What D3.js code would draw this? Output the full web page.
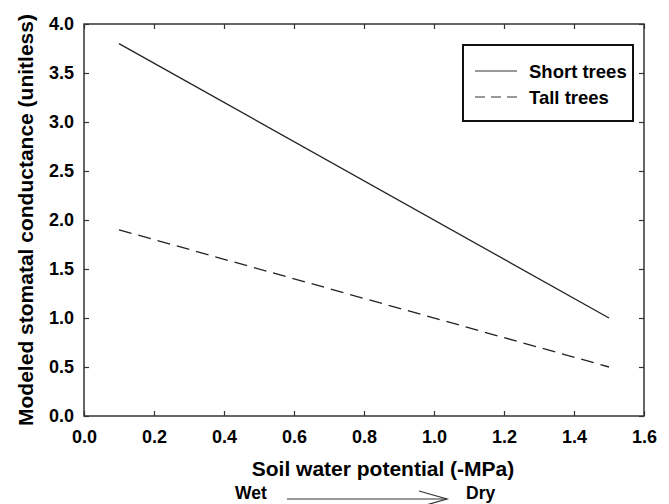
<!DOCTYPE html>
<html><head><meta charset="utf-8">
<script src="https://cdn.jsdelivr.net/npm/d3@7"></script>
<style>body{margin:0;background:#fff}svg{display:block}text{font-family:"Liberation Sans",Arial,sans-serif;font-weight:bold;fill:#000}</style>
</head><body>
<script>
const potential = [0.1, 1.5];
const shortTrees = [3.8, 1.0];
const tallTrees = [1.9, 0.5];
const xTicks = [0, 0.2, 0.4, 0.6, 0.8, 1.0, 1.2, 1.4, 1.6];
const yTicks = [0, 0.5, 1.0, 1.5, 2.0, 2.5, 3.0, 3.5, 4.0];
const seriesNames = ["Short trees", "Tall trees"];

const W = 669, H = 504;
const m = {l: 84, r: 25, t: 24, b: 88};
const svg = d3.select("body").append("svg").attr("width", W).attr("height", H);
const x = d3.scaleLinear().domain([0, 1.6]).range([m.l, W - m.r]);
const y = d3.scaleLinear().domain([0, 4]).range([H - m.b, m.t]);
const fmt = d3.format(".1f");
const FONT = '"Liberation Sans",Arial,sans-serif';

const gx = svg.append("g").attr("transform", `translate(0,${H - m.b})`)
  .call(d3.axisBottom(x).tickValues(xTicks).tickFormat(fmt).tickSizeInner(-5).tickSizeOuter(0).tickPadding(14));
const gxt = svg.append("g").attr("transform", `translate(0,${m.t})`)
  .call(d3.axisTop(x).tickValues(xTicks).tickFormat("").tickSizeInner(-5).tickSizeOuter(0));
const gy = svg.append("g").attr("transform", `translate(${m.l},0)`)
  .call(d3.axisLeft(y).tickValues(yTicks).tickFormat(fmt).tickSizeInner(-5).tickSizeOuter(0).tickPadding(10));
const gyr = svg.append("g").attr("transform", `translate(${W - m.r},0)`)
  .call(d3.axisRight(y).tickValues(yTicks).tickFormat("").tickSizeInner(-5).tickSizeOuter(0));
[gx, gxt, gy, gyr].forEach(g => {
  g.select(".domain").remove();
  g.selectAll("line").attr("stroke", "#333").attr("stroke-width", 1.2);
  g.selectAll("text").style("font-size", "18px").attr("fill", "#000").style("font-family", FONT).style("font-weight", "bold");
});
svg.append("rect").attr("x", x(0)).attr("y", y(4)).attr("width", x(1.6) - x(0)).attr("height", y(0) - y(4))
  .attr("fill", "none").attr("stroke", "#333").attr("stroke-width", 1.5);

const line = d3.line().x(d => x(d[0])).y(d => y(d[1]));
svg.append("path").datum(potential.map((p, i) => [p, shortTrees[i]])).attr("d", line)
  .attr("fill", "none").attr("stroke", "#222").attr("stroke-width", 1.3);
svg.append("path").datum(potential.map((p, i) => [p, tallTrees[i]])).attr("d", line)
  .attr("fill", "none").attr("stroke", "#222").attr("stroke-width", 1.3).attr("stroke-dasharray", "13,7");

// legend
const lg = svg.append("g");
lg.append("rect").attr("x", 463).attr("y", 45).attr("width", 170).attr("height", 76)
  .attr("fill", "#fff").attr("stroke", "#111").attr("stroke-width", 2);
seriesNames.forEach((n, i) => {
  const yy = 71 + i * 26;
  lg.append("line").attr("x1", 475).attr("x2", 517).attr("y1", yy).attr("y2", yy)
    .attr("stroke", "#333").attr("stroke-width", 1.2).attr("stroke-dasharray", i ? "10,6" : null);
  lg.append("text").attr("x", 529).attr("y", yy + 7).style("font-size", "18.5px").text(n);
});

// axis titles
svg.append("text").attr("transform", `translate(33,${(y(0) + y(4)) / 2}) rotate(-90)`)
  .attr("text-anchor", "middle").style("font-size", "21px").text("Modeled stomatal conductance (unitless)");
svg.append("text").attr("x", 383).attr("y", 476).attr("text-anchor", "middle").style("font-size", "21px").text("Soil water potential (-MPa)");
svg.append("text").attr("x", 235).attr("y", 499).style("font-size", "17.5px").text("Wet");
svg.append("text").attr("x", 466).attr("y", 499).style("font-size", "17.5px").text("Dry");
svg.append("line").attr("x1", 287).attr("x2", 447).attr("y1", 499).attr("y2", 499).attr("stroke", "#333").attr("stroke-width", 1.2);
svg.append("path").attr("d", "M419,491 L447,499 L419,507").attr("fill", "none").attr("stroke", "#333").attr("stroke-width", 1.2);
</script>
</body></html>
